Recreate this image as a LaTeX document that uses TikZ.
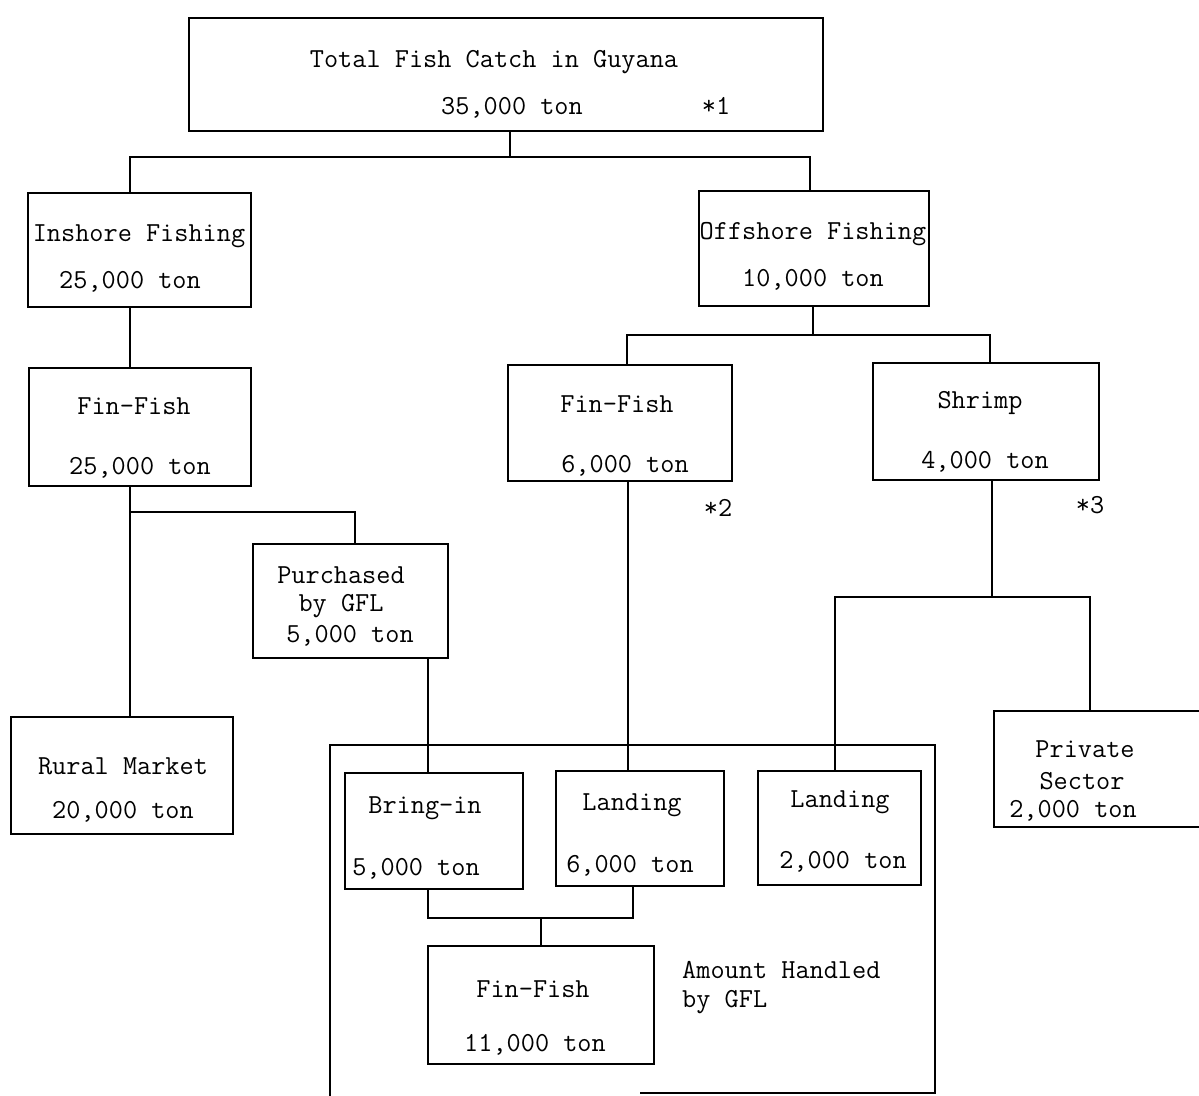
\documentclass[tikz,border=0pt]{standalone}
\usepackage{fontspec}
\begin{document}
\begin{tikzpicture}[x=1pt,y=-1pt,
  bx/.style={draw, line width=1.8pt, inner sep=0pt, anchor=north west},
  tx/.style={font=\ttfamily\fontsize{27.5}{30}\selectfont, inner sep=0pt, anchor=center},
  ln/.style={line width=1.8pt}]
\useasboundingbox (0,0) rectangle (1199,1095);
% boxes
\node[bx, minimum width=634pt, minimum height=113pt] (top) at (188,17) {};
\node[bx, minimum width=223pt, minimum height=114pt] (ins) at (27,192) {};
\node[bx, minimum width=222pt, minimum height=118pt] (fin1) at (28,367) {};
\node[bx, minimum width=195pt, minimum height=114pt] (pur) at (252,543) {};
\node[bx, minimum width=222pt, minimum height=117pt] (rural) at (10,716) {};
\node[bx, minimum width=230pt, minimum height=115pt] (off) at (698,190) {};
\node[bx, minimum width=224pt, minimum height=116pt] (fin2) at (507,364) {};
\node[bx, minimum width=226pt, minimum height=117pt] (shr) at (872,362) {};
\node[bx, minimum width=215pt, minimum height=116pt] (priv) at (993,710) {};
\node[bx, minimum width=178pt, minimum height=116pt] (bring) at (344,772) {};
\node[bx, minimum width=168pt, minimum height=115pt] (land1) at (555,770) {};
\node[bx, minimum width=163pt, minimum height=114pt] (land2) at (757,770) {};
\node[bx, minimum width=226pt, minimum height=118pt] (fin3) at (427,945) {};
% GFL frame
\draw[ln] (640,1093) -- (935,1093) -- (935,745) -- (330,745) -- (330,1097);
% texts
\node[tx] (t1) at (494,62) {Total Fish Catch in Guyana};
\node[tx] (t2) at (512,108) {35,000 ton};
\node[tx] (n1) at (716,106) {*1};
\node[tx] (t3) at (139,236) {Inshore Fishing};
\node[tx] (t4) at (130,282) {25,000 ton};
\node[tx] (t5) at (134,406) {Fin-Fish};
\node[tx] (t6) at (140,468) {25,000 ton};
\node[tx] (t7) at (341,575) {Purchased};
\node[tx] (t8) at (341,606) {by GFL};
\node[tx] (t9) at (350,636) {5,000 ton};
\node[tx] (t10) at (123,766) {Rural Market};
\node[tx] (t11) at (123,812) {20,000 ton};
\node[tx] (t12) at (813,234) {Offshore Fishing};
\node[tx] (t13) at (813,280) {10,000 ton};
\node[tx] (t14) at (617,404) {Fin-Fish};
\node[tx] (t15) at (625,466) {6,000 ton};
\node[tx] (n2) at (718,508) {*2};
\node[tx] (t16) at (980,403) {Shrimp};
\node[tx] (t17) at (985,462) {4,000 ton};
\node[tx] (n3) at (1090,505) {*3};
\node[tx] (t18) at (1085,749) {Private};
\node[tx] (t19) at (1082,781) {Sector};
\node[tx] (t20) at (1073,811) {2,000 ton};
\node[tx] (t21) at (425,808) {Bring-in};
\node[tx] (t22) at (416,869) {5,000 ton};
\node[tx] (t23) at (632,805) {Landing};
\node[tx] (t24) at (630,866) {6,000 ton};
\node[tx] (t25) at (840,802) {Landing};
\node[tx] (t26) at (843,862) {2,000 ton};
\node[tx] (t27) at (533,989) {Fin-Fish};
\node[tx] (t28) at (535,1045) {11,000 ton};
\node[tx, anchor=west] (t29) at (682,970) {Amount Handled};
\node[tx, anchor=west] (t30) at (682,1002) {by GFL};
% connectors
\draw[ln] (510,0 |- top.south) -- (510,157) coordinate (j1) -- (130,157) -- (130,0 |- ins.north);
\draw[ln] (j1) -- (810,157) -- (810,0 |- off.north);
\draw[ln] (130,0 |- ins.south) -- (130,0 |- fin1.north);
\draw[ln] (130,0 |- fin1.south) -- (130,0 |- rural.north);
\draw[ln] (130,512) -- (355,512) -- (355,0 |- pur.north);
\draw[ln] (428,0 |- pur.south) -- (428,0 |- bring.north);
\draw[ln] (813,0 |- off.south) -- (813,335) coordinate (j2);
\draw[ln] (627,0 |- fin2.north) -- (627,335) -- (990,335) -- (990,0 |- shr.north);
\draw[ln] (628,0 |- fin2.south) -- (628,0 |- land1.north);
\draw[ln] (992,0 |- shr.south) -- (992,597) coordinate (j3);
\draw[ln] (835,0 |- land2.north) -- (835,597) -- (1090,597) -- (1090,0 |- priv.north);
\draw[ln] (428,0 |- bring.south) -- (428,918) -- (633,918) -- (633,0 |- land1.south);
\draw[ln] (541,918) -- (541,0 |- fin3.north);
\end{tikzpicture}
\end{document}
